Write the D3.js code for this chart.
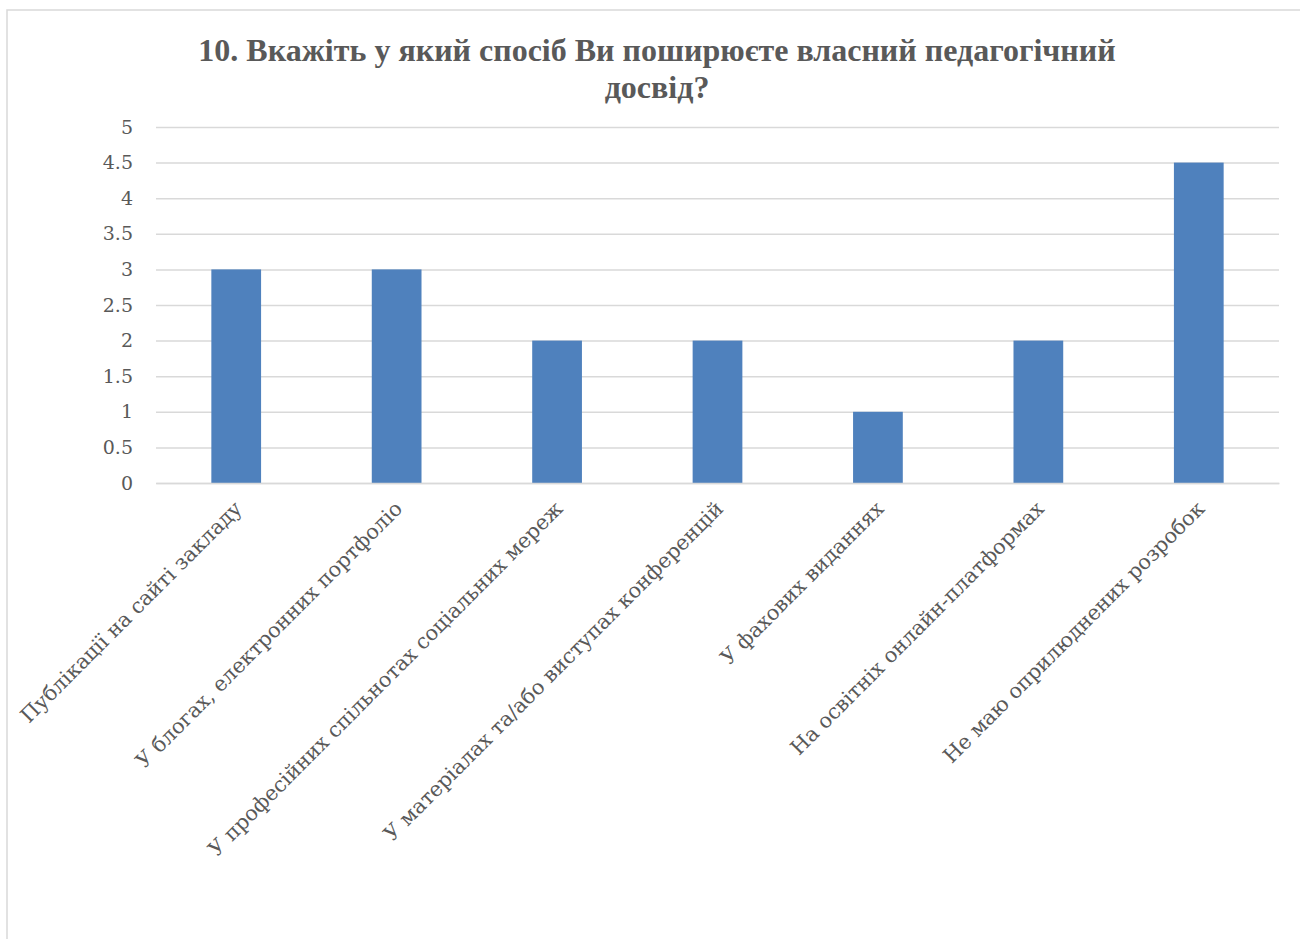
<!DOCTYPE html>
<html><head><meta charset="utf-8">
<script src="https://cdn.jsdelivr.net/npm/d3@7"></script>
<style>html,body{margin:0;padding:0;background:#fff;overflow:hidden}</style>
</head><body>
<svg id="c" width="1300" height="939"></svg>
<script>
const title = ["10. Вкажіть у який спосіб Ви поширюєте власний педагогічний", "досвід?"];
const categories = [
  "Публікації на сайті закладу",
  "У блогах, електронних портфоліо",
  "У професійних спільнотах соціальних мереж",
  "У матеріалах та/або виступах конференцій",
  "У фахових виданнях",
  "На освітніх онлайн-платформах",
  "Не маю оприлюднених розробок"
];
const values = [3, 3, 2, 2, 1, 2, 4.5];
const yTicks = [0, 0.5, 1, 1.5, 2, 2.5, 3, 3.5, 4, 4.5, 5];

const svg = d3.select("#c");
svg.append("rect").attr("x", 7).attr("y", 10).attr("width", 1310).attr("height", 950)
  .attr("fill", "#fff").attr("stroke", "#d9d9d9").attr("stroke-width", 1.5);

const m = {left: 156, right: 1279, top: 127, bottom: 483};
const x = d3.scaleBand().domain(categories).range([m.left, m.right]).paddingInner(0.69).paddingOuter(0.345);
const y = d3.scaleLinear().domain([0, 5]).range([m.bottom, m.top]);

svg.append("text").attr("x", 657).attr("y", 0).attr("text-anchor", "middle")
  .attr("font-family", "Liberation Serif").attr("font-weight", "bold").attr("font-size", 32)
  .attr("fill", "#595959")
  .selectAll("tspan").data(title).join("tspan")
  .attr("x", 657).attr("y", (d, i) => 61 + i * 37).text(d => d);

const ya = svg.append("g").attr("transform", `translate(${m.left},0)`)
  .call(d3.axisLeft(y).tickValues(yTicks).tickSize(-(m.right - m.left)).tickFormat(d3.format("")));
ya.select(".domain").remove();
ya.selectAll(".tick line").attr("stroke", "#d9d9d9").attr("stroke-width", 1.5);
ya.selectAll(".tick text").attr("x", -23).attr("font-family", "DejaVu Serif")
  .attr("font-size", 19).attr("fill", "#595959");

svg.selectAll("rect.bar").data(values).join("rect").attr("class", "bar")
  .attr("x", (d, i) => x(categories[i])).attr("width", x.bandwidth())
  .attr("y", d => y(d)).attr("height", d => y(0) - y(d)).attr("fill", "#4f81bd");

const xa = svg.append("g").attr("transform", `translate(0,${m.bottom})`)
  .call(d3.axisBottom(x).tickSize(0));
xa.select(".domain").attr("stroke", "#d9d9d9").attr("stroke-width", 1.5);
xa.selectAll(".tick text").attr("font-family", "DejaVu Serif").attr("font-size", 20.7)
  .attr("fill", "#595959").attr("text-anchor", "end").attr("dy", 0).attr("y", 0)
  .attr("transform", "translate(7,27) rotate(-45)");
</script>
</body></html>
